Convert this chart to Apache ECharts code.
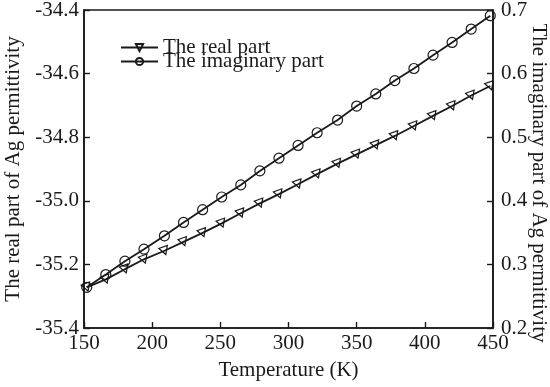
<!DOCTYPE html>
<html>
<head>
<meta charset="utf-8">
<script src="https://cdn.jsdelivr.net/npm/echarts@6/dist/echarts.min.js"></script>
<style>
html,body{margin:0;padding:0;background:#fff;}
#chart{width:550px;height:387px;}
</style>
</head>
<body>
<div id="chart"></div>
<script>
var temperatures = [152, 166, 180, 194, 209, 223, 237, 251, 265, 279, 293, 307, 321, 336, 350, 364, 378, 392, 406, 420, 434, 448];
var realPart = [-35.272, -35.247, -35.215, -35.184, -35.157, -35.129, -35.101, -35.071, -35.039, -35.008, -34.979, -34.948, -34.916, -34.883, -34.854, -34.825, -34.796, -34.765, -34.733, -34.702, -34.669, -34.639];
var imagPart = [0.264, 0.284, 0.305, 0.324, 0.345, 0.366, 0.386, 0.406, 0.425, 0.447, 0.467, 0.487, 0.507, 0.527, 0.549, 0.568, 0.589, 0.608, 0.629, 0.649, 0.670, 0.691];
var seriesNames = ['The real part', 'The imaginary part'];
var xTitle = 'Temperature (K)';
var yLeftTitle = 'The real part of Ag permittivity';
var yRightTitle = 'The imaginary part of Ag permittivity';

var FONT = "'Liberation Serif', 'Times New Roman', serif";
var INK = '#1a1a1a';

function pairs(xs, ys) { return xs.map(function (x, i) { return [x, ys[i]]; }); }

var chart = echarts.init(document.getElementById('chart'), null, {renderer: 'canvas'});
var axisCommon = {
  axisLine: {show: true, lineStyle: {color: INK, width: 1.6}},
  axisTick: {show: true, inside: true, length: 6, lineStyle: {color: INK, width: 1.4}},
  splitLine: {show: false},
  nameTextStyle: {fontFamily: FONT, fontSize: 21, color: INK},
  axisLabel: {fontFamily: FONT, fontSize: 21, color: INK}
};
chart.setOption({
  animation: false,
  backgroundColor: '#fff',
  textStyle: {fontFamily: FONT},
  grid: {left: 84, right: 57, top: 10, bottom: 59, containLabel: false, outerBoundsMode: 'none', show: true, borderColor: INK, borderWidth: 1.6, backgroundColor: 'transparent'},
  legend: {
    orient: 'vertical', left: 115, top: 32, itemWidth: 37, itemHeight: 9, itemGap: -7,
    symbolRotate: 'inherit',
    textStyle: {fontFamily: FONT, fontSize: 21, color: INK},
    data: [
      {name: seriesNames[0], symbolRotate: 180},
      {name: seriesNames[1]}
    ]
  },
  graphic: [{
    type: 'text',
    x: 539, y: 183,
    rotation: -Math.PI / 2,
    style: {
      text: yRightTitle,
      fontFamily: FONT, fontSize: 21, fill: INK,
      align: 'center', verticalAlign: 'middle'
    }
  }],
  xAxis: echarts.util.merge({
    type: 'value', min: 150, max: 450, interval: 50,
    name: xTitle, nameLocation: 'middle', nameGap: 32,
    axisLabel: {margin: 5}
  }, axisCommon),
  yAxis: [
    echarts.util.merge({
      type: 'value', min: -35.4, max: -34.4, interval: 0.2, position: 'left',
      name: yLeftTitle, nameLocation: 'middle', nameGap: 56,
      axisLabel: {margin: 5, formatter: function (v) { return v.toFixed(1); }}
    }, axisCommon),
    echarts.util.merge({
      type: 'value', min: 0.2, max: 0.7, interval: 0.1, position: 'right',
      axisLabel: {margin: 8, formatter: function (v) { return v.toFixed(1); }}
    }, axisCommon)
  ],
  series: [
    {
      name: seriesNames[0], type: 'line', yAxisIndex: 0,
      data: pairs(temperatures, realPart),
      symbol: 'triangle', symbolSize: [9, 8], symbolRotate: 200,
      lineStyle: {color: INK, width: 1.8},
      itemStyle: {color: 'transparent', borderColor: INK, borderWidth: 1.2},
      showAllSymbol: true, z: 3
    },
    {
      name: seriesNames[1], type: 'line', yAxisIndex: 1,
      data: pairs(temperatures, imagPart),
      symbol: 'circle', symbolSize: 10,
      lineStyle: {color: INK, width: 1.8},
      itemStyle: {color: 'transparent', borderColor: INK, borderWidth: 1.2},
      showAllSymbol: true, z: 3
    }
  ]
});
</script>
</body>
</html>
